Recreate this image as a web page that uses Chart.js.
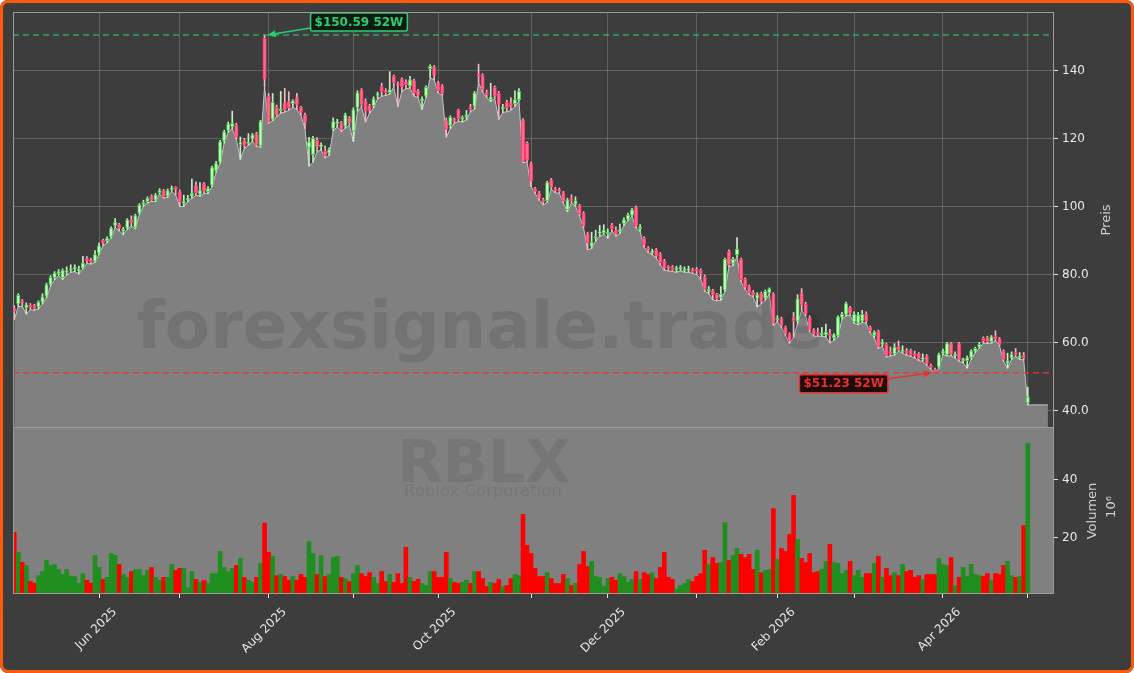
<!DOCTYPE html>
<html>
<head>
<meta charset="utf-8">
<script src="https://cdn.jsdelivr.net/npm/chart.js@4.4.1/dist/chart.umd.min.js"></script>
<style>
  html, body { margin: 0; padding: 0; background: #ffffff; }
  #wrap { position: relative; width: 1134px; height: 673px; background: #3d3d3d; border-radius: 8px; overflow: hidden; }
  #wrap canvas { position: absolute; left: 0; }
  #price { top: 0; }
  #volume { top: 428px; }
  #edge { position: absolute; inset: 0; border: 3px solid #ff5a0a; border-radius: 8px; pointer-events: none; }
</style>
</head>
<body>
<div id="wrap">
  <canvas id="price" width="1134" height="428"></canvas>
  <canvas id="volume" width="1134" height="245"></canvas>
  <div id="edge"></div>
</div>
<script>
// RBLX daily OHLCV, May 1 2025 .. May 1 2026 (trading day index 0..251)
const opens = [
  70.2, 71.5, 72.3, 70.3, 71.2, 71, 70.6, 72, 73.8, 77.2,
  79.2, 80.4, 79.2, 80.8, 81.4, 81.8, 81.2, 82, 84.8, 84.4,
  84, 86.4, 90.2, 90, 91.2, 94.6, 94.8, 92.8, 93.8, 96.2,
  94, 98.2, 100.8, 101.6, 103.2, 102, 104.2, 104.8, 103.2, 105.1,
  105.8, 104.5, 101, 102, 103.2, 106.2, 103.8, 106.8, 104.5, 106.4,
  110.6, 113.2, 119.4, 122.5, 123.6, 124, 118.4, 119.6, 118.6, 120,
  121.6, 118, 149.6, 132.6, 125.8, 129.4, 128.3, 130.6, 131, 130.4,
  132.2, 129.3, 127.1, 117.5, 115.4, 119.6, 117.8, 116.4, 115.8, 123.1,
  124.6, 124.8, 123.8, 126.2, 122.4, 129.3, 134.4, 131.2, 129.8, 129.8,
  132.8, 135.4, 134.2, 133.6, 138.4, 136.2, 137.6, 136.8, 135.6, 137.2,
  134.2, 131.2, 132.6, 140.6, 141.2, 136.6, 135.4, 125.4, 124, 125.8,
  128.4, 125.8, 126.4, 129.4, 129.6, 139, 138.8, 133.8, 131.6, 135.2,
  133.4, 128.8, 130.8, 130.4, 130.4, 131.6, 125.6, 118.7, 112.8, 105.4,
  104.2, 102.2, 101.8, 108, 105.4, 105, 104.2, 99.2, 102.6, 100.8,
  100.4, 98.2, 92.2, 88.4, 90.8, 92.2, 92.4, 92.1, 94.6, 93.2,
  92.8, 95.2, 96.4, 97.6, 100, 93.6, 90.8, 88, 86.6, 87.4,
  86.2, 84.2, 82.4, 82.4, 81.4, 81.8, 81.3, 81.4, 81.6, 81.6,
  81.4, 79.5, 75.2, 75.4, 74.3, 73.4, 75.6, 86.9, 83.4, 86,
  84.6, 78.8, 76.6, 75, 73.2, 74.6, 73.2, 74.8, 74.4, 66.8,
  67.2, 64.6, 62.6, 67.6, 66.4, 74.6, 71.4, 67.4, 63.8, 63.2,
  62.4, 62.4, 62.8, 61.6, 62.2, 67.6, 68.4, 70.4, 66.2, 65.8,
  66.4, 68.6, 64.6, 62.2, 63.4, 59.6, 59.6, 57.4, 56.8, 59,
  57.4, 57.6, 57.8, 56.8, 56.8, 55.2, 56.2, 53.4, 52.2, 53,
  57, 56.6, 59.8, 56.2, 59.8, 54.8, 54.8, 55.7, 57.6, 58.8,
  61.4, 61.6, 60.4, 62, 61.2, 57.6, 54, 55.6, 57.2, 55.6,
  56.4, 42.4
];
const highs = [
  71, 74.5, 72.8, 71.8, 71.6, 71.4, 72.4, 74.5, 77.6, 79.8,
  81, 81.6, 81.8, 82.4, 83, 83, 82.6, 85.5, 85.4, 85,
  87.2, 89.4, 90.6, 91.2, 94.2, 96.6, 95.2, 94, 96.6, 97.4,
  97.9, 101, 102, 103, 103.6, 104, 105.4, 105.2, 105.3, 106.2,
  106, 105, 103.5, 103.4, 108.2, 107.4, 107.2, 107.2, 106, 112,
  113.4, 119.6, 122.6, 125, 128.2, 124.6, 120.6, 120.2, 121.6, 121.6,
  122, 125.5, 150.59, 133.4, 133.4, 130, 134, 134.9, 133.9, 131.5,
  133.4, 129.6, 127.6, 120.5, 120.8, 120.4, 118.9, 118, 117.4, 126.2,
  125.8, 125.2, 127.6, 126.6, 129.2, 134.2, 134.8, 131.8, 130.2, 132.4,
  133.8, 136.4, 134.8, 139.8, 138.8, 136.8, 138, 137.4, 138.4, 137.6,
  134.6, 132.4, 135.6, 141.8, 141.6, 137, 136, 126.2, 126.8, 126.2,
  128.8, 126.8, 128.4, 130.2, 134, 142, 139.2, 134.4, 136.4, 135.6,
  134, 130.2, 131.4, 132.2, 134.2, 134.8, 126, 119.2, 113.2, 105.8,
  104.6, 102.6, 107.6, 108.4, 105.8, 105.6, 104.6, 102.6, 103.6, 103,
  100.8, 98.6, 92.6, 92.6, 93.2, 94.6, 94.8, 93.6, 95.2, 94.2,
  95, 96.8, 98.2, 99.6, 100.3, 94.8, 91.2, 88.4, 87.6, 87.8,
  86.6, 84.6, 82.8, 82.8, 82.6, 82.8, 82.4, 82.6, 82, 82.2,
  81.8, 80, 76.6, 75.8, 74.6, 76.6, 85, 87.4, 85.2, 91,
  85, 79.2, 77, 75.4, 74.8, 75, 75.6, 76.2, 74.8, 68,
  67.6, 65, 63, 69, 74.2, 76, 72, 68, 64.2, 64.4,
  64.6, 65.6, 64, 62.8, 68, 69, 72, 70.8, 69.2, 69,
  69.6, 69.2, 65, 63.6, 63.8, 61, 60, 58.8, 59.8, 60.6,
  59.2, 58.4, 58.2, 57.6, 57.2, 56.8, 56.6, 53.8, 52.6, 57,
  58.2, 60.2, 60.2, 57.4, 60.2, 55.6, 56.2, 58, 58.8, 60.2,
  61.8, 62, 62.2, 63.6, 61.6, 58, 57, 57.4, 58.4, 57.2,
  57.2, 47
];
const lows = [
  66.8, 70.7, 70.8, 68.5, 69.8, 69.6, 70, 71.5, 73.4, 76.8,
  78.6, 79.8, 78.7, 80, 80.8, 81, 80.3, 81.8, 83.4, 83.2,
  83.7, 86, 88.6, 89.5, 90.8, 94, 93, 91.8, 93.4, 94.4,
  93.6, 97.8, 100.2, 101.2, 101.6, 101.6, 103.8, 102.6, 102.8, 104.6,
  103.5, 100.1, 100.2, 101.6, 102.6, 103.4, 103.2, 104, 104, 106,
  110.2, 112.8, 118.8, 122, 123, 120, 114, 117.2, 118.2, 119.2,
  117.8, 117.6, 135.4, 124.6, 125.4, 126.6, 127.6, 127.9, 128.4, 129.4,
  128.6, 127, 123, 112, 113.2, 116.2, 116.8, 114.4, 115.2, 122.4,
  123.6, 122.2, 123.2, 124, 119.2, 128.2, 129.4, 125, 127.6, 129.2,
  131.8, 132.6, 132.8, 133.2, 135.2, 129.5, 134, 134.8, 135, 132.6,
  132.2, 128.7, 132.2, 138, 137.4, 133.6, 132.8, 120.5, 123, 124.6,
  125.2, 125, 125.6, 128, 128.8, 136.6, 133.8, 132.2, 131, 132,
  125.8, 127.8, 128, 128.4, 129.6, 131.2, 113, 113.2, 106, 104,
  102, 100.6, 101.4, 105.2, 104.2, 104, 101.2, 98.6, 101.2, 100.2,
  97.4, 93.8, 87.4, 87.8, 90, 91.4, 92, 90.8, 93, 91.4,
  92.2, 94.6, 96, 97.2, 93.8, 92.8, 88.2, 86.6, 86, 85,
  83, 81.4, 81.2, 81, 80.8, 81.2, 80.8, 80.8, 80.4, 80.2,
  78.8, 75.2, 74.6, 72.7, 72.4, 72.6, 75.2, 82.4, 82.8, 85.4,
  78, 75.8, 74.2, 73.6, 70.6, 71.6, 72.6, 74.4, 65.2, 66.2,
  64.6, 62.2, 59.9, 61.6, 65.8, 69.6, 68, 63.2, 62, 62,
  62, 61.8, 60, 60.8, 61.8, 67, 68, 68.2, 65.8, 65.4,
  66, 65.8, 63, 61.6, 58.4, 59, 55.8, 56.2, 56.4, 57.6,
  57, 56.4, 56, 55.6, 54.8, 54.6, 53.4, 52.2, 51.23, 52.6,
  56.6, 56.2, 56.2, 55.6, 54.6, 54.2, 52.6, 55.2, 57.2, 58.4,
  60, 59.8, 60, 60.6, 59.2, 54.6, 52.6, 55.2, 56, 55.2,
  55, 41.8
];
const closes = [
  69.3, 74, 71.8, 71.2, 70.6, 70.2, 72, 73.6, 77.2, 79.3,
  80.6, 81, 81.4, 81.2, 81.8, 82.1, 81.6, 83.5, 84.2, 83.9,
  86, 88.6, 89.4, 90.8, 93.8, 95.5, 93.8, 93.5, 96.2, 95.3,
  97.5, 100.6, 101.4, 102.6, 102, 103.6, 104.8, 103, 104.8, 105.5,
  105.2, 101.5, 101.6, 102.6, 104, 104.2, 104.8, 104.8, 105.4, 111.6,
  112.8, 119.2, 122.1, 124.4, 124.6, 120.5, 118.9, 118, 118.9, 121.2,
  118.2, 125.1, 137.6, 125.2, 130.8, 127.1, 128.9, 128.6, 129.2, 131.2,
  130.2, 127.8, 125, 119.2, 120.2, 117.6, 118.3, 115, 116.9, 125.1,
  125, 122.8, 127.1, 124.7, 128.6, 133.6, 130, 128.2, 128.4, 131.8,
  133.1, 134, 133.6, 134.5, 136.6, 135.8, 135.4, 136, 137.4, 133.6,
  132.9, 131.8, 135.2, 141.4, 138.8, 134.2, 133.4, 122.8, 126.4, 125.4,
  126, 126.4, 127.2, 128.6, 133.6, 138.6, 134.6, 133, 132.4, 132.6,
  130.2, 129.4, 129.2, 129.6, 131.6, 134, 113.4, 113.8, 107.6, 104.6,
  102.6, 101.6, 107.2, 105.8, 104.9, 104.6, 101.8, 102.1, 101.9, 101.8,
  97.9, 94.4, 89.4, 89.6, 91.4, 92.7, 93.2, 92.6, 93.6, 92,
  93.3, 96.2, 97.6, 99.2, 94.4, 94.2, 88.8, 87.2, 87, 85.6,
  83.6, 82, 82, 81.6, 82.1, 82.2, 81.7, 81.8, 81, 81.2,
  80.4, 75.8, 75.8, 74.2, 73, 74.4, 84.6, 83, 84.6, 87.6,
  78.6, 76.4, 74.8, 74.2, 74.2, 72.2, 75.2, 75.9, 65.8, 67.3,
  65.2, 62.8, 60.6, 66.6, 73, 71.2, 68.6, 64, 62.6, 62.6,
  62.9, 63.2, 62.2, 62.4, 67.6, 68.4, 71.6, 68.8, 68.4, 68.2,
  68.4, 66.4, 63.6, 63.2, 59, 60.3, 56.2, 56.8, 58.8, 58,
  58, 57, 56.6, 56.2, 55.4, 55.6, 54, 52.8, 51.6, 56.6,
  57.6, 59.8, 56.8, 56.6, 55.2, 55.2, 55.7, 57.6, 58.4, 59.6,
  60.6, 60.4, 61.8, 61.2, 59.6, 55.2, 54.8, 56.6, 56.6, 56.2,
  55.6, 44.2
];
// volume in millions
const volumes = [
  21.8, 15, 11.5, 10.5, 5, 4.4, 7, 8.4, 12.2, 10.5,
  10.8, 9.1, 7.4, 9.1, 6.7, 6.7, 4.4, 7.7, 5.4, 4.4,
  13.9, 9.8, 5.7, 6.4, 14.6, 13.9, 10.8, 7.4, 6.4, 8.4,
  9.1, 9.1, 7, 8.8, 9.8, 6.4, 5.4, 6.4, 6.4, 10.8,
  8.8, 9.5, 9.5, 2.9, 8.4, 5.7, 4.7, 5.4, 4.3, 7.7,
  7.7, 15.3, 9.8, 8.4, 9.5, 10.5, 12.9, 6.4, 5.4, 4.7,
  6.4, 11.2, 25, 15, 13.6, 7, 7.4, 6.7, 5.4, 6.7,
  5.4, 7.4, 6.4, 18.7, 14.6, 7.4, 13.9, 6.7, 7.4, 13.2,
  13.6, 6.4, 6, 5, 7.7, 10.5, 7.7, 6.7, 8, 6.4,
  4.3, 8.4, 5, 7.4, 4.7, 7.7, 4.3, 16.7, 6.4, 5,
  5.7, 4.3, 3.6, 8.4, 8.4, 6.4, 6.4, 15, 6, 4.7,
  4.3, 4.7, 5.4, 4.3, 8.4, 8.4, 6, 3.3, 4.7, 4.3,
  5.7, 3.3, 3.6, 6, 7.4, 7, 28, 17.4, 14.6, 9.5,
  6.7, 6.7, 8, 6, 4.3, 4.3, 7.4, 6, 3.6, 4.3,
  10.8, 15.3, 10.1, 11.9, 6.7, 6.4, 3.3, 6, 6.4, 5.4,
  7.7, 6.7, 4.7, 5.7, 8.4, 5.7, 8, 7.4, 8, 6,
  9.8, 15, 6.4, 5.7, 2.3, 3.6, 4.3, 5.7, 5, 6.7,
  7.7, 15.7, 10.8, 13.2, 11.2, 11.5, 25.2, 12.2, 13.9, 16.3,
  14.3, 13.2, 14.3, 9.1, 15.7, 8, 8.8, 9.1, 30, 12.6,
  16.3, 15.3, 21.1, 34.5, 19.4, 12.9, 11.5, 14.6, 8, 8.4,
  9.1, 11.9, 17.7, 11.5, 11.2, 7.7, 8.8, 11.9, 7, 8.8,
  6.4, 7.7, 7.7, 11.2, 13.6, 6.4, 9.5, 7, 8, 7,
  10.8, 8.4, 8.8, 6.4, 7, 5.7, 7.4, 7.4, 7.4, 12.9,
  10.8, 10.5, 13.2, 3.6, 6.4, 9.8, 6.7, 10.8, 7.4, 7,
  6.7, 7.7, 5.4, 7.7, 7.4, 10.5, 11.9, 7, 6.4, 6.7,
  24.2, 52.4
];
// area outline keeps running flat after the last session
const areaTail = [41.8, 41.8, 41.8, 41.8, 41.8];

// month ticks (trading-day index of first session) and their labels
const monthTickIdx = [21, 41, 63, 84, 105, 128, 147, 169, 189, 208, 230, 251];
const monthTickLabels = ['Jun 2025', '', 'Aug 2025', '', 'Oct 2025', '', 'Dec 2025', '', 'Feb 2026', '', 'Apr 2026', ''];
const priceTicks = [40, 60, 80, 100, 120, 140];
const volumeTicks = [20, 40];

// 52-week marks as printed on the chart
const high52w = 150.59;
const low52w = 51.23;
const hiIdx = highs.indexOf(high52w);
const loIdx = lows.indexOf(low52w);

const up = closes.map((c, i) => c >= opens[i]);
const areaPts = lows.concat(areaTail).map((v, i) => ({ x: i, y: v }));
const wickPts = closes.map((c, i) => ({ x: i, y: [lows[i], highs[i]] }));
const bodyPts = closes.map((c, i) => ({ x: i, y: [opens[i], c] }));
const volPts = volumes.map((v, i) => ({ x: i, y: v }));

const xMin = -0.3, xMax = 257.5;
const gridCol = 'rgba(255,255,255,0.19)';
const tickText = '#e8e8e8';
const spine = '#9c9c9c';
const tickFont = { family: 'DejaVu Sans', size: 12 };

const setTicks = list => scale => { scale.ticks = list.map(v => ({ value: v })) };
const noPad = s => { s.paddingTop = 0; s.paddingBottom = 0; s.paddingLeft = 0; s.paddingRight = 0 };

function rotatedTitle(ctx, text, x, y, size, color) {
  ctx.save();
  ctx.translate(x, y);
  ctx.rotate(-Math.PI / 2);
  ctx.font = size + 'px "DejaVu Sans"';
  ctx.fillStyle = color;
  ctx.textAlign = 'center';
  ctx.textBaseline = 'middle';
  ctx.fillText(text, 0, 0);
  ctx.restore();
}

function tag(ctx, text, x, top, color, bg, alignRight) {
  ctx.save();
  ctx.font = 'bold 12px "DejaVu Sans"';
  const w = ctx.measureText(text).width + 8, h = 18;
  const left = alignRight ? x - w : x;
  ctx.beginPath();
  ctx.roundRect(left, top, w, h, 2);
  ctx.fillStyle = bg;
  ctx.fill();
  ctx.lineWidth = 1.5;
  ctx.strokeStyle = color;
  ctx.stroke();
  ctx.fillStyle = color;
  ctx.textBaseline = 'middle';
  ctx.fillText(text, left + 4, top + h / 2 + 0.5);
  ctx.restore();
}

function arrow(ctx, x0, y0, x1, y1, color) {
  const a = Math.atan2(y1 - y0, x1 - x0);
  ctx.save();
  ctx.strokeStyle = color;
  ctx.fillStyle = color;
  ctx.lineWidth = 1.5;
  ctx.beginPath();
  ctx.moveTo(x0, y0);
  ctx.lineTo(x1 - 6 * Math.cos(a), y1 - 6 * Math.sin(a));
  ctx.stroke();
  ctx.beginPath();
  ctx.moveTo(x1, y1);
  ctx.lineTo(x1 - 8 * Math.cos(a) + 3.5 * Math.sin(a), y1 - 8 * Math.sin(a) - 3.5 * Math.cos(a));
  ctx.lineTo(x1 - 8 * Math.cos(a) - 3.5 * Math.sin(a), y1 - 8 * Math.sin(a) + 3.5 * Math.cos(a));
  ctx.closePath();
  ctx.fill();
  ctx.restore();
}

function frame(ctx, area, withTop) {
  ctx.save();
  ctx.strokeStyle = spine;
  ctx.lineWidth = 1;
  ctx.beginPath();
  if (withTop) { ctx.moveTo(area.left, area.top + 0.5); ctx.lineTo(area.right, area.top + 0.5); }
  ctx.moveTo(area.left + 0.5, area.top); ctx.lineTo(area.left + 0.5, area.bottom);
  ctx.moveTo(area.right - 0.5, area.top); ctx.lineTo(area.right - 0.5, area.bottom);
  ctx.moveTo(area.left, area.bottom - 0.5); ctx.lineTo(area.right, area.bottom - 0.5);
  ctx.stroke();
  ctx.restore();
}

const priceDecor = {
  id: 'priceDecor',
  afterDatasetDraw(chart, args) {
    if (args.index !== 0) return;
    const ctx = chart.ctx;
    ctx.save();
    ctx.font = 'bold 66px "DejaVu Sans"';
    ctx.fillStyle = 'rgba(0,0,0,0.1)';
    ctx.textAlign = 'center';
    ctx.fillText('forexsignale.trade', 480, 348);
    ctx.restore();
  },
  afterDatasetsDraw(chart) {
    const { ctx, chartArea: area, scales } = chart;
    const yHi = scales.y.getPixelForValue(high52w);
    const yLo = scales.y.getPixelForValue(low52w);
    ctx.save();
    ctx.lineWidth = 1.5;
    ctx.setLineDash([6, 4]);
    ctx.strokeStyle = 'rgba(46,204,113,0.7)';
    ctx.beginPath(); ctx.moveTo(area.left, yHi); ctx.lineTo(area.right, yHi); ctx.stroke();
    ctx.strokeStyle = 'rgba(235,50,50,0.85)';
    ctx.beginPath(); ctx.moveTo(area.left, yLo); ctx.lineTo(area.right, yLo); ctx.stroke();
    ctx.restore();

    const xh = scales.x.getPixelForValue(hiIdx);
    const xl = scales.x.getPixelForValue(loIdx);
    arrow(ctx, xh + 46, yHi - 7, xh + 3, yHi, '#2ecc71');
    tag(ctx, '$' + high52w.toFixed(2) + ' 52W', xh + 46, yHi - 22, '#2ecc71', '#0c1c12', false);
    arrow(ctx, xl - 47, yLo + 6, xl - 3, yLo, '#e8302f');
    tag(ctx, '$' + low52w.toFixed(2) + ' 52W', xl - 47, yLo + 2, '#e8302f', '#1e0c0c', true);
  },
  afterDraw(chart) {
    frame(chart.ctx, chart.chartArea, true);
    rotatedTitle(chart.ctx, 'Preis', 1107, (chart.chartArea.top + chart.chartArea.bottom) / 2, 13, '#d0d0d0');
  }
};

const volumeDecor = {
  id: 'volumeDecor',
  beforeDatasetsDraw(chart) {
    const { ctx, chartArea: a } = chart;
    ctx.save();
    ctx.fillStyle = '#808080';
    ctx.fillRect(a.left, a.top, a.right - a.left, a.bottom - a.top);
    ctx.fillStyle = 'rgba(0,0,0,0.08)';
    ctx.textAlign = 'center';
    ctx.font = 'bold 59px "DejaVu Sans"';
    ctx.fillText('RBLX', 484, 54);
    ctx.font = '16.5px "DejaVu Sans"';
    ctx.fillText('Roblox Corporation', 483, 68);
    ctx.restore();
  },
  afterDraw(chart) {
    const a = chart.chartArea;
    frame(chart.ctx, a, false);
    const mid = (a.top + a.bottom) / 2;
    rotatedTitle(chart.ctx, 'Volumen', 1093, mid, 13, '#d0d0d0');
    rotatedTitle(chart.ctx, '10\u2076', 1112, mid - 4, 13, '#d0d0d0');
  }
};

new Chart(document.getElementById('price'), {
  type: 'bar',
  data: {
    datasets: [
      {
        type: 'line', data: areaPts, order: 3,
        borderColor: '#c6c6c6', borderWidth: 1, backgroundColor: '#808080',
        fill: 'start', pointRadius: 0, tension: 0
      },
      {
        data: wickPts, order: 2, grouped: false, barThickness: 1,
        backgroundColor: up.map(u => u ? '#c9eec9' : '#f2b6c6')
      },
      {
        data: bodyPts, order: 1, grouped: false, barThickness: 3.4, minBarLength: 1.5,
        backgroundColor: up.map(u => u ? '#c8f7c8' : '#ff6a8f'),
        borderColor: up.map(u => u ? '#3ed23e' : '#ff3a6a'),
        borderWidth: 1, borderSkipped: false
      }
    ]
  },
  options: {
    responsive: false, animation: false, events: [],
    layout: { padding: { left: 13, top: 12, right: 0, bottom: 0 } },
    plugins: { legend: { display: false }, tooltip: { enabled: false } },
    scales: {
      x: {
        type: 'linear', min: xMin, max: xMax, offset: false,
        afterBuildTicks: setTicks(monthTickIdx),
        afterFit: s => { noPad(s); s.height = 0 },
        ticks: { display: false },
        grid: { color: gridCol, drawTicks: false, offset: false },
        border: { display: false }
      },
      y: {
        position: 'right', min: 35, max: 157.35,
        afterBuildTicks: setTicks(priceTicks),
        afterFit: s => { noPad(s); s.width = 80 },
        ticks: {
          color: tickText, font: tickFont, padding: 4,
          callback: v => v >= 100 ? String(v) : v.toFixed(1)
        },
        grid: { color: gridCol, tickColor: '#e0e0e0', tickLength: 4 },
        border: { display: false }
      }
    }
  },
  plugins: [priceDecor]
});

new Chart(document.getElementById('volume'), {
  type: 'bar',
  data: {
    datasets: [{
      data: volPts, barThickness: 4, borderWidth: 0,
      backgroundColor: up.map(u => u ? '#1f8f1f' : '#ff0000')
    }]
  },
  options: {
    responsive: false, animation: false, events: [],
    layout: { padding: { left: 13, top: 0, right: 0, bottom: 0 } },
    plugins: { legend: { display: false }, tooltip: { enabled: false } },
    scales: {
      x: {
        type: 'linear', min: xMin, max: xMax, offset: false,
        afterBuildTicks: setTicks(monthTickIdx),
        afterFit: s => { noPad(s); s.height = 79 },
        ticks: {
          color: tickText, font: tickFont, autoSkip: false,
          minRotation: 45, maxRotation: 45, padding: 7, labelOffset: 16,
          callback: v => monthTickLabels[monthTickIdx.indexOf(v)] || ''
        },
        grid: { drawOnChartArea: false, tickColor: '#e0e0e0', tickLength: 4, offset: false },
        border: { display: false }
      },
      y: {
        position: 'right', min: 0.3 * Math.min(...volumes), max: 1.1 * Math.max(...volumes),
        afterBuildTicks: setTicks(volumeTicks),
        afterFit: s => { noPad(s); s.width = 80 },
        ticks: { color: tickText, font: tickFont, padding: 4 },
        grid: { drawOnChartArea: false, tickColor: '#e0e0e0', tickLength: 4 },
        border: { display: false }
      }
    }
  },
  plugins: [volumeDecor]
});
</script>
</body>
</html>
